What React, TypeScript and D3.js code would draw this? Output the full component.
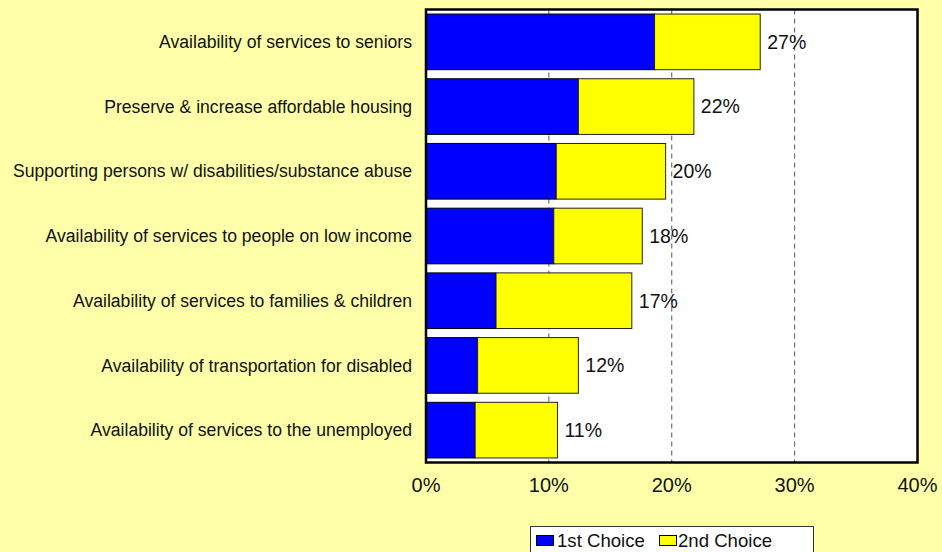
import React from "react";
import * as d3 from "d3";

const categories = [
  "Availability of services to seniors",
  "Preserve & increase affordable housing",
  "Supporting persons w/ disabilities/substance abuse",
  "Availability of services to people on low income",
  "Availability of services to families & children",
  "Availability of transportation for disabled",
  "Availability of services to the unemployed",
];
const firstChoice = [18.6, 12.4, 10.6, 10.4, 5.7, 4.2, 4.0];
const secondChoice = [8.6, 9.4, 8.9, 7.2, 11.05, 8.2, 6.7];
const totalLabels = ["27%", "22%", "20%", "18%", "17%", "12%", "11%"];
const xTicks = [0, 10, 20, 30, 40];
const seriesNames = ["1st Choice", "2nd Choice"];
const seriesColors = ["#0000FF", "#FFFF00"];

const W = 942;
const H = 552;
const BG = "#FFFFAA";
const FONT = "Arial, 'Liberation Sans', Helvetica, sans-serif";

export default function App() {
  const left = 426;
  const right = 917.5;
  const top = 9.5;
  const bottom = 462.5;
  const x = d3.scaleLinear().domain([0, 40]).range([left, right]);
  const y = d3
    .scaleBand<string>()
    .domain(categories)
    .range([top, bottom])
    .paddingInner(0.14)
    .paddingOuter(0.07);
  const bh = y.bandwidth();

  return (
    <div style={{ position: "fixed", left: 0, top: 0 }}>
      <svg width={W} height={H} style={{ display: "block" }} fontFamily={FONT}>
        <rect x={0} y={0} width={W} height={H} fill={BG} />
        <rect x={left} y={top} width={right - left} height={bottom - top} fill="#FFFFFF" />
        {xTicks.slice(1, -1).map((t) => (
          <line
            key={t}
            x1={x(t)}
            x2={x(t)}
            y1={top}
            y2={bottom}
            stroke="#555"
            strokeWidth={1}
            strokeDasharray="5,4"
          />
        ))}
        {categories.map((c, i) => {
          const y0 = y(c)!;
          const x1 = x(firstChoice[i]);
          const x2 = x(firstChoice[i] + secondChoice[i]);
          return (
            <g key={c}>
              <rect x={x(0)} y={y0} width={x1 - x(0)} height={bh} fill={seriesColors[0]} stroke="#000" strokeWidth={1} />
              <rect x={x1} y={y0} width={x2 - x1} height={bh} fill={seriesColors[1]} stroke="#222" strokeWidth={1} />
              <text x={x2 + 7} y={y0 + bh / 2} dy="0.35em" fontSize={19.5} fill="#111">
                {totalLabels[i]}
              </text>
              <text x={412} y={y0 + bh / 2} dy="0.35em" fontSize={17.6} textAnchor="end" fill="#111">
                {c}
              </text>
            </g>
          );
        })}
        <rect
          x={left}
          y={top}
          width={right - left}
          height={bottom - top}
          fill="none"
          stroke="#000"
          strokeWidth={2.5}
        />
        {xTicks.map((t) => (
          <text key={t} x={x(t)} y={492} fontSize={20} textAnchor="middle" fill="#111">
            {t}%
          </text>
        ))}
        <g>
          <rect x={530.5} y={526.5} width={283} height={40} fill="#FFFFFF" stroke="#333" strokeWidth={1} />
          <rect x={536.5} y={535.5} width={17} height={10} fill={seriesColors[0]} stroke="#000" strokeWidth={1} />
          <text x={557} y={546.5} fontSize={18.6} fill="#111">{seriesNames[0]}</text>
          <rect x={659.5} y={535.5} width={17} height={10} fill={seriesColors[1]} stroke="#000" strokeWidth={1} />
          <text x={678} y={546.5} fontSize={18.6} fill="#111">{seriesNames[1]}</text>
        </g>
      </svg>
    </div>
  );
}
